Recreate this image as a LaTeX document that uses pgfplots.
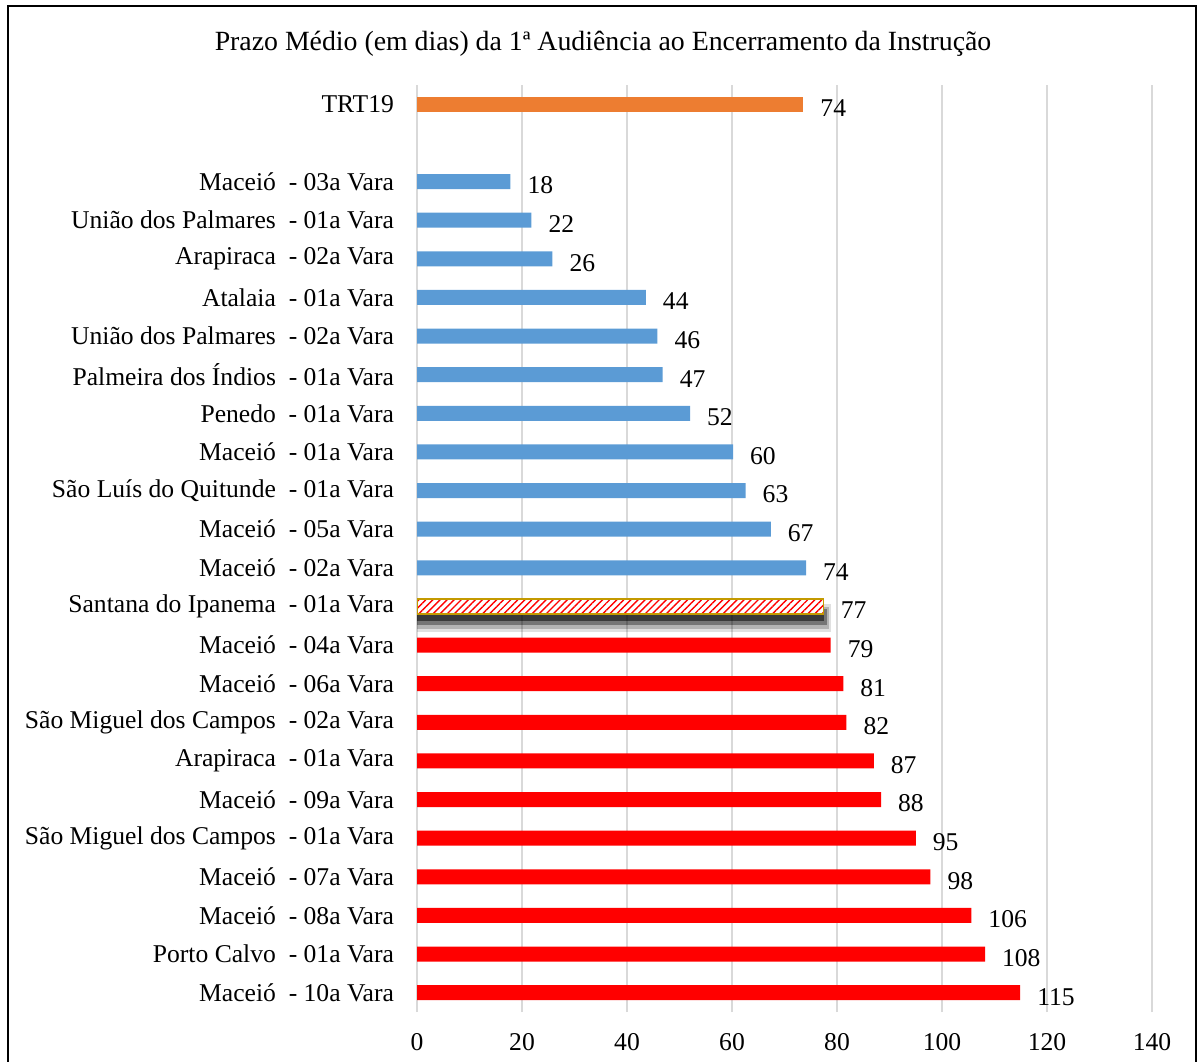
\documentclass[border=0pt]{standalone}
\usepackage{pgfplots}
\pgfplotsset{compat=1.18}
\usepackage{fontspec}
\setmainfont{Liberation Serif}
\usetikzlibrary{patterns.meta}
\definecolor{orangebar}{HTML}{ED7D31}
\definecolor{bluebar}{HTML}{5B9BD5}
\definecolor{gridc}{HTML}{D9D9D9}
\definecolor{goldc}{HTML}{C49A00}
\begin{document}
\begin{tikzpicture}[x=1pt,y=1pt]
\useasboundingbox (0,0) rectangle (601.5,530.5);
\draw[line width=1.3pt] (4,-5) -- (4,527.5) -- (598,527.5) -- (598,-5);
\node[font=\fontsize{13.9}{16}\selectfont] at (301.5,508.5) {Prazo Médio (em dias) da 1ª Audiência ao Encerramento da Instrução};
\begin{axis}[at={(208.5pt,24.5pt)}, anchor=south west, scale only axis,
  width=367.5pt, height=463.5pt,
  xmin=0, xmax=140, ymin=-0.5, ymax=23.5,
  xbar, bar width=7.5pt, bar shift=0pt,
  axis line style={draw=none}, major tick length=0pt, tick style={draw=none},
  xmajorgrids, grid style={gridc, line width=0.8pt},
  xtick={0,20,...,140},
  ytick={0,...,21,23},
  yticklabels={Maceió\ \ - 10a Vara, Porto Calvo\ \ - 01a Vara, Maceió\ \ - 08a Vara, Maceió\ \ - 07a Vara, São Miguel dos Campos\ \ - 01a Vara, Maceió\ \ - 09a Vara, Arapiraca\ \ - 01a Vara, São Miguel dos Campos\ \ - 02a Vara, Maceió\ \ - 06a Vara, Maceió\ \ - 04a Vara, Santana do Ipanema\ \ - 01a Vara, Maceió\ \ - 02a Vara, Maceió\ \ - 05a Vara, São Luís do Quitunde\ \ - 01a Vara, Maceió\ \ - 01a Vara, Penedo\ \ - 01a Vara, Palmeira dos Índios\ \ - 01a Vara, União dos Palmares\ \ - 02a Vara, Atalaia\ \ - 01a Vara, Arapiraca\ \ - 02a Vara, União dos Palmares\ \ - 01a Vara, Maceió\ \ - 03a Vara, TRT19},
  ticklabel style={font=\fontsize{12.8}{15}\selectfont},
  yticklabel style={xshift=-8pt},
  xticklabel style={yshift=-7pt},
  /pgf/number format/assume math mode=true,
  point meta=x,
  vlabels/.style={nodes near coords={\pgfmathprintnumber[fixed,precision=0]{\pgfplotspointmeta}},
    nodes near coords style={anchor=west, xshift=5pt, yshift=-2pt, text=black, font=\fontsize{12.8}{15}\selectfont}},
]
% shadow for Santana
\addplot[fill=black, draw=none, opacity=0.12, bar width=14pt, bar shift=-6pt] coordinates {(78.8,10)};
\addplot[fill=black, draw=none, opacity=0.2, bar width=11pt, bar shift=-6pt] coordinates {(78.4,10)};
\addplot[fill=black, draw=none, opacity=0.35, bar width=8pt, bar shift=-5.5pt] coordinates {(78.0,10)};
\addplot[fill=black, draw=none, opacity=0.5, bar width=5pt, bar shift=-5pt] coordinates {(77.6,10)};
% red bars
\addplot[vlabels, fill=red, draw=none] coordinates {
(114.9,0) (108.2,1) (105.6,2) (97.8,3) (95,4) (88.4,5) (87,6) (81.8,7) (81.2,8) (78.8,9)};
% hatched bar
\addplot[vlabels, fill=white, draw=goldc, line width=0.8pt,
  postaction={pattern={Lines[angle=45,distance=2.5pt,line width=0.7pt]}, pattern color=red}] coordinates {(77.4,10)};
% blue bars
\addplot[vlabels, fill=bluebar, draw=none] coordinates {
(74.1,11) (67.4,12) (62.6,13) (60.2,14) (52,15) (46.8,16) (45.8,17) (43.6,18) (25.8,19) (21.8,20) (17.8,21)};
% orange
\addplot[vlabels, fill=orangebar, draw=none] coordinates {(73.6,23)};
\end{axis}
\end{tikzpicture}
\end{document}
